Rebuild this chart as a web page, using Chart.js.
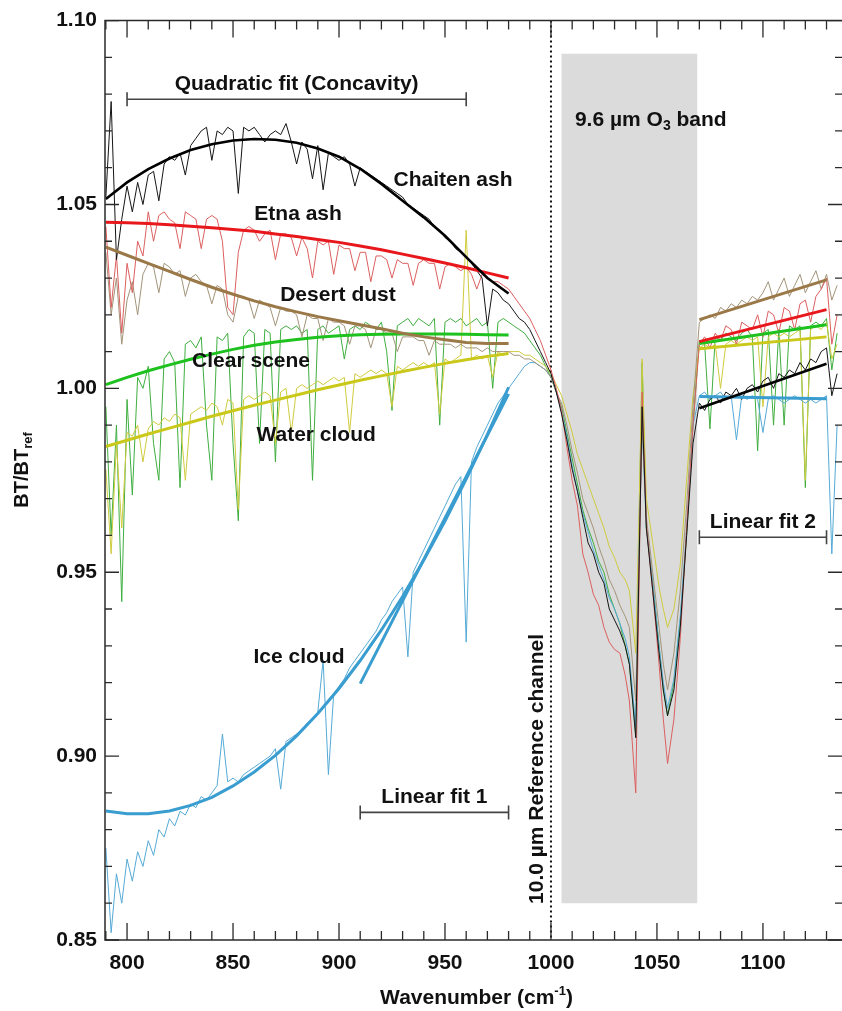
<!DOCTYPE html>
<html>
<head>
<meta charset="utf-8">
<title>BT/BTref spectra</title>
<script src="https://cdn.jsdelivr.net/npm/chart.js@4.4.1/dist/chart.umd.min.js"></script>
<style>
  html, body { margin: 0; padding: 0; background: #fff; }
  #wrap { width: 842px; height: 1011px; }
</style>
</head>
<body>
<div id="wrap"><canvas id="chart" width="842" height="1011"></canvas></div>
<script>
/* ============================================================
   BT/BT_ref spectra with quadratic and linear fits
   ============================================================ */

// ── Wavenumber grid (cm-1) shared by all spectra ──
const WN = [
  790, 792.5, 795, 797.5, 800, 802.5, 805, 807.5, 810, 812.5,
  815, 817.5, 820, 822.5, 825, 827.5, 830, 832.5, 835, 837.5,
  840, 842.5, 845, 847.5, 850, 852.5, 855, 857.5, 860, 862.5,
  865, 867.5, 870, 872.5, 875, 877.5, 880, 882.5, 885, 887.5,
  890, 892.5, 895, 897.5, 900, 902.5, 905, 907.5, 910, 912.5,
  915, 917.5, 920, 922.5, 925, 927.5, 930, 932.5, 935, 937.5,
  940, 942.5, 945, 947.5, 950, 952.5, 955, 957.5, 960, 962.5,
  965, 967.5, 970, 972.5, 975, 977.5, 980, 982.5, 985, 987.5,
  990, 992.5, 995, 997.5, 1000, 1002.5, 1005, 1007.5, 1010, 1012.5,
  1015, 1017.5, 1020, 1022.5, 1025, 1027.5, 1030, 1032.5, 1035,
  // ozone band
  1037, 1040, 1041.5, 1043, 1045, 1048, 1051, 1053, 1055, 1058, 1061, 1064, 1067,
  // window 2
  1070, 1072.5, 1075, 1077.5, 1080, 1082.5, 1085, 1087.5, 1090, 1092.5,
  1095, 1097.5, 1100, 1102.5, 1105, 1107.5, 1110, 1112.5, 1115, 1117.5,
  1120, 1122.5, 1125, 1127.5, 1130, 1132.5, 1135
];

// ── Measured spectra ──
const CHAITEN = [
  1.052, 1.078, 1.035, 1.046, 1.055, 1.048, 1.056, 1.050, 1.058, 1.059,
  1.051, 1.061, 1.063, 1.062, 1.064, 1.058, 1.066, 1.068, 1.070, 1.071,
  1.062, 1.070, 1.069, 1.071, 1.070, 1.053, 1.071, 1.070, 1.071, 1.069,
  1.067, 1.069, 1.070, 1.069, 1.072, 1.067, 1.061, 1.067, 1.065, 1.057,
  1.066, 1.054, 1.064, 1.063, 1.062, 1.063, 1.061, 1.055, 1.060, 1.059,
  1.058, 1.057, 1.056, 1.055, 1.054, 1.053, 1.052, 1.050, 1.049, 1.048,
  1.047, 1.046, 1.044, 1.043, 1.041, 1.040, 1.038, 1.037, 1.036, 1.034,
  1.032, 1.030, 1.017, 1.027, 1.026, 1.024, 1.023, 1.021, 1.019, 1.018,
  1.016, 1.013, 1.010, 1.007, 1.004, 0.999, 0.993, 0.986, 0.978, 0.972,
  0.965, 0.958, 0.955, 0.950, 0.947, 0.940, 0.937, 0.934, 0.930,
  0.925, 0.905, 0.950, 0.995, 0.962, 0.945, 0.928, 0.918, 0.911, 0.918, 0.935, 0.960, 0.985,
  0.996, 0.994, 0.997, 0.998, 0.996, 0.999, 0.998, 1.000, 0.997, 1.000,
  1.001, 0.999, 1.002, 1.003, 1.000, 1.004, 1.003, 1.005, 1.004, 1.007,
  1.005, 1.008, 1.007, 1.010, 1.011, 0.998, 1.004
];
const ETNA = [
  1.044, 1.022, 1.036, 1.015, 1.034, 1.026, 1.040, 1.036, 1.048, 1.040,
  1.047, 1.048, 1.046, 1.045, 1.038, 1.048, 1.047, 1.046, 1.038, 1.046,
  1.047, 1.046, 1.040, 1.022, 1.020, 1.037, 1.043, 1.044, 1.043, 1.040,
  1.042, 1.043, 1.035, 1.042, 1.042, 1.041, 1.036, 1.041, 1.038, 1.030,
  1.040, 1.039, 1.040, 1.031, 1.039, 1.038, 1.038, 1.032, 1.037, 1.037,
  1.029, 1.036, 1.036, 1.035, 1.030, 1.035, 1.034, 1.034, 1.028, 1.034,
  1.035, 1.034, 1.034, 1.027, 1.033, 1.034, 1.033, 1.032, 1.033, 1.031,
  1.027, 1.031, 1.030, 1.029, 1.029, 1.028, 1.027, 1.025, 1.023, 1.021,
  1.019, 1.016, 1.013, 1.009, 1.005, 1.000, 0.994, 0.984, 0.975, 0.968,
  0.955, 0.950, 0.944, 0.941, 0.935, 0.931, 0.929, 0.928, 0.922,
  0.915, 0.890, 0.945, 0.999, 0.963, 0.945, 0.925, 0.910, 0.898, 0.910, 0.932, 0.962, 0.990,
  1.012, 1.014, 1.011, 1.015, 1.013, 1.017, 1.016, 1.012, 1.018, 1.017,
  1.016, 1.020, 1.014, 1.021, 1.020, 1.015, 1.022, 1.021, 1.016, 1.023,
  1.024, 1.018, 1.025, 1.027, 1.030, 1.012, 1.020
];
const DUST = [
  1.037, 1.020, 1.030, 1.012, 1.024, 1.029, 1.020, 1.031, 1.034, 1.033,
  1.026, 1.034, 1.033, 1.031, 1.032, 1.025, 1.030, 1.031, 1.029, 1.028,
  1.023, 1.028, 1.027, 1.020, 1.018, 1.025, 1.025, 1.024, 1.019, 1.024,
  1.023, 1.022, 1.017, 1.022, 1.021, 1.021, 1.020, 1.014, 1.020, 1.019,
  1.019, 1.013, 1.019, 1.018, 1.018, 1.017, 1.012, 1.017, 1.017, 1.016,
  1.011, 1.016, 1.016, 1.015, 1.015, 1.010, 1.014, 1.014, 1.014, 1.013,
  1.013, 1.009, 1.013, 1.012, 1.012, 1.012, 1.011, 1.012, 1.011, 1.011,
  1.011, 1.010, 1.011, 1.010, 1.010, 1.010, 1.010, 1.009, 1.009, 1.008,
  1.008, 1.007, 1.006, 1.005, 1.003, 0.999, 0.996, 0.990, 0.983, 0.977,
  0.970, 0.966, 0.962, 0.957, 0.953, 0.948, 0.945, 0.941, 0.938,
  0.935, 0.915, 0.955, 0.990, 0.965, 0.950, 0.935, 0.925, 0.918, 0.928, 0.945, 0.968, 0.995,
  1.018, 1.019, 1.020, 1.019, 1.022, 1.021, 1.023, 1.022, 1.024, 1.023,
  1.025, 1.024, 1.026, 1.029, 1.024, 1.027, 1.030, 1.025, 1.028, 1.031,
  1.026, 1.029, 1.032, 1.027, 1.031, 1.024, 1.028
];
const CLEAR = [
  0.995, 0.960, 0.990, 0.942, 0.997, 0.971, 1.003, 1.000, 1.006, 0.985,
  0.975, 1.008, 1.010, 1.007, 0.973, 1.012, 1.013, 1.011, 1.014, 0.990,
  0.975, 1.014, 1.013, 1.015, 0.985, 0.964, 1.014, 1.016, 1.015, 0.985,
  1.016, 1.015, 0.980, 1.016, 1.017, 1.016, 1.017, 1.015, 1.016, 0.975,
  1.016, 1.017, 1.015, 1.016, 1.017, 1.008, 1.016, 1.017, 1.016, 1.018,
  1.017, 1.016, 1.018, 1.010, 0.994, 1.017, 1.018, 1.019, 1.017, 1.019,
  1.018, 1.017, 1.019, 0.990, 1.018, 1.019, 1.018, 1.019, 1.017, 1.018,
  1.019, 1.017, 1.018, 1.000, 1.018, 1.019, 1.018, 1.017, 1.016, 1.015,
  1.013, 1.011, 1.009, 1.006, 1.003, 0.999, 0.995, 0.988, 0.981, 0.974,
  0.967, 0.962, 0.958, 0.953, 0.950, 0.944, 0.940, 0.936, 0.930,
  0.925, 0.906, 0.960, 1.007, 0.962, 0.947, 0.930, 0.918, 0.911, 0.920, 0.937, 0.960, 0.990,
  1.013, 1.012, 0.989, 1.014, 1.013, 1.015, 1.014, 1.013, 1.015, 1.016,
  1.014, 0.983, 1.015, 1.016, 0.990, 1.016, 0.990, 1.017, 1.016, 1.017,
  0.973, 1.017, 1.018, 1.017, 1.019, 1.005, 1.015
];
const WATER = [
  0.978, 0.955, 0.985, 0.962, 0.988, 0.987, 0.990, 0.980, 0.989, 0.991,
  0.990, 0.992, 0.991, 0.993, 0.992, 0.975, 0.993, 0.994, 0.995, 0.994,
  0.996, 0.995, 0.990, 0.997, 0.996, 0.967, 0.997, 0.998, 0.997, 0.998,
  0.999, 0.998, 0.985, 0.999, 1.000, 0.988, 1.000, 1.001, 1.000, 1.001,
  1.002, 1.001, 1.002, 1.003, 1.002, 1.003, 0.988, 1.004, 1.003, 1.004,
  1.005, 1.004, 1.005, 1.004, 0.995, 1.006, 1.005, 1.006, 1.007, 1.006,
  1.007, 1.006, 1.007, 0.993, 1.008, 1.007, 1.008, 1.009, 1.043, 1.008,
  1.009, 1.008, 1.009, 1.003, 1.010, 1.009, 1.010, 1.010, 1.010, 1.009,
  1.009, 1.008, 1.007, 1.006, 1.004, 1.001, 0.998, 0.993, 0.988, 0.982,
  0.978, 0.974, 0.970, 0.966, 0.962, 0.957, 0.954, 0.950, 0.948,
  0.945, 0.928, 0.965, 1.008, 0.970, 0.958, 0.946, 0.940, 0.935, 0.940, 0.952, 0.975, 0.998,
  1.011, 1.012, 1.011, 1.012, 1.000, 1.012, 1.013, 1.012, 1.013, 1.014,
  1.013, 1.014, 0.995, 1.014, 1.015, 1.014, 1.015, 1.014, 1.015, 1.016,
  0.975, 1.016, 1.017, 1.016, 1.018, 1.008, 1.012
];
const ICE = [
  0.875, 0.852, 0.868, 0.860, 0.872, 0.866, 0.874, 0.870, 0.877, 0.873,
  0.880, 0.878, 0.883, 0.881, 0.885, 0.884, 0.887, 0.886, 0.889, 0.888,
  0.890, 0.892, 0.906, 0.893, 0.894, 0.893, 0.895, 0.896, 0.897, 0.898,
  0.899, 0.900, 0.902, 0.891, 0.904, 0.905, 0.906, 0.907, 0.909, 0.910,
  0.912, 0.926, 0.895, 0.917, 0.919, 0.921, 0.924, 0.926, 0.928, 0.930,
  0.932, 0.934, 0.937, 0.939, 0.942, 0.944, 0.946, 0.927, 0.950, 0.953,
  0.956, 0.959, 0.962, 0.965, 0.968, 0.971, 0.974, 0.976, 0.931, 0.980,
  0.984, 0.987, 0.990, 0.993, 0.996, 0.998, 1.000, 1.002, 1.004, 1.006,
  1.007, 1.007, 1.006, 1.005, 1.003, 0.999, 0.994, 0.987, 0.979, 0.972,
  0.966, 0.961, 0.956, 0.952, 0.948, 0.943, 0.940, 0.936, 0.932,
  0.927, 0.908, 0.955, 0.990, 0.962, 0.948, 0.930, 0.920, 0.913, 0.921, 0.938, 0.962, 0.990,
  0.998, 0.999, 0.997, 0.998, 0.999, 0.997, 0.998, 0.986, 0.998, 0.997,
  0.998, 0.997, 0.988, 0.997, 0.998, 0.997, 0.996, 0.997, 0.998, 0.997,
  0.996, 0.997, 0.996, 0.997, 0.998, 0.955, 0.990
];

// ── Quadratic fits (800-980 window, drawn from 790) ──
const QUAD_X = [790, 800, 810, 820, 830, 840, 850, 860, 870, 880, 890, 900, 910, 920, 930, 940, 950, 960, 970, 980];
const CHAITEN_QFIT = [1.0515, 1.0560, 1.0596, 1.0625, 1.0648, 1.0664, 1.0674, 1.0678, 1.0676, 1.0668, 1.0652, 1.0630, 1.0597, 1.0556, 1.0510, 1.0465, 1.0415, 1.0357, 1.0300, 1.0258];
const ETNA_QFIT    = [1.0452, 1.0450, 1.0448, 1.0445, 1.0441, 1.0437, 1.0432, 1.0427, 1.0420, 1.0413, 1.0405, 1.0397, 1.0387, 1.0377, 1.0365, 1.0353, 1.0341, 1.0328, 1.0314, 1.0300];
const DUST_QFIT    = [1.0384, 1.0362, 1.0340, 1.0318, 1.0296, 1.0275, 1.0256, 1.0238, 1.0222, 1.0208, 1.0195, 1.0184, 1.0173, 1.0162, 1.0150, 1.0140, 1.0132, 1.0125, 1.0122, 1.0122];
const CLEAR_QFIT   = [1.0010, 1.0030, 1.0048, 1.0064, 1.0079, 1.0093, 1.0106, 1.0117, 1.0126, 1.0133, 1.0139, 1.0143, 1.0146, 1.0147, 1.0148, 1.0148, 1.0148, 1.0147, 1.0146, 1.0145];
const WATER_QFIT   = [0.9842, 0.9859, 0.9876, 0.9892, 0.9908, 0.9924, 0.9939, 0.9954, 0.9968, 0.9982, 0.9996, 1.0009, 1.0022, 1.0034, 1.0046, 1.0057, 1.0068, 1.0078, 1.0087, 1.0095];
const ICE_QFIT     = [0.8851, 0.8843, 0.8843, 0.8851, 0.8866, 0.8888, 0.8919, 0.8957, 0.9002, 0.9055, 0.9116, 0.9184, 0.9260, 0.9343, 0.9434, 0.9533, 0.9639, 0.9753, 0.9874, 1.0003];

// ── Linear fit 1 (910-980) ──
const LIN1_X = [910, 980];
const ICE_LFIT1 = [0.9197, 0.9985];

// ── Linear fit 2 (1070-1130) ──
const LIN2_X = [1070, 1130];
const DUST_LFIT2    = [1.0187, 1.0295];
const ETNA_LFIT2    = [1.0127, 1.0214];
const CLEAR_LFIT2   = [1.0122, 1.0173];
const WATER_LFIT2   = [1.0108, 1.0140];
const CHAITEN_LFIT2 = [0.9946, 1.0067];
const ICE_LFIT2     = [0.9978, 0.9972];

// ── Axis ticks ──
const X_TICKS = [800, 850, 900, 950, 1000, 1050, 1100];
const Y_TICKS = [0.85, 0.90, 0.95, 1.00, 1.05, 1.10];

// ── Annotations ──
const O3_BAND_X = [1005, 1069];
const O3_BAND_Y = [0.86, 1.091];
const REF_CHANNEL = 1000;
const SCENE_LABELS = [
  ["Chaiten ash", 953.8, 1.0566],
  ["Etna ash",    880.7, 1.0474],
  ["Desert dust", 899.5, 1.0254],
  ["Clear scene", 858.5, 1.0073],
  ["Water cloud", 889.2, 0.9872],
  ["Ice cloud",   881.1, 0.9270]
];
const BRACKETS = [
  ["Quadratic fit (Concavity)", 800, 960, 1.0786],
  ["Linear fit 1",              910, 980, 0.8847],
  ["Linear fit 2",              1070, 1130, 0.9595]
];

const FONT_FAMILY = "'Liberation Sans', Arial, Helvetica, sans-serif";
const TEXT_COLOR  = "#111";

/* ================================================================
   DATASETS
   ================================================================ */
function pts(xs, ys) {
  return xs.map((x, i) => ({ x: x, y: ys[i] }));
}

function spectrum(label, ys, color, order) {
  return {
    label: label,
    data: pts(WN, ys),
    borderColor: color,
    borderWidth: 1,
    pointRadius: 0,
    tension: 0,
    order: order
  };
}

function fit(label, xs, ys, color, width) {
  return {
    label: label,
    data: pts(xs, ys),
    borderColor: color,
    borderWidth: width || 3,
    pointRadius: 0,
    tension: 0,
    order: 0
  };
}

const datasets = [
  // fits on top (order 0)
  fit("Chaiten fit",  QUAD_X, CHAITEN_QFIT, "#000000", 2.6),
  fit("Etna fit",     QUAD_X, ETNA_QFIT,    "#e8171c"),
  fit("Dust fit",     QUAD_X, DUST_QFIT,    "#9b7847"),
  fit("Clear fit",    QUAD_X, CLEAR_QFIT,   "#1ec21e"),
  fit("Water fit",    QUAD_X, WATER_QFIT,   "#cac81a"),
  fit("Ice fit",      QUAD_X, ICE_QFIT,     "#3a9dd0"),
  fit("Ice lin 1",    LIN1_X, ICE_LFIT1,    "#3a9dd0"),
  fit("Dust lin 2",   LIN2_X, DUST_LFIT2,   "#9b7847"),
  fit("Etna lin 2",   LIN2_X, ETNA_LFIT2,   "#e8171c"),
  fit("Clear lin 2",  LIN2_X, CLEAR_LFIT2,  "#1ec21e"),
  fit("Water lin 2",  LIN2_X, WATER_LFIT2,  "#cac81a"),
  fit("Chaiten lin 2",LIN2_X, CHAITEN_LFIT2,"#000000", 2.6),
  fit("Ice lin 2",    LIN2_X, ICE_LFIT2,    "#3a9dd0"),
  // spectra (higher order = further back)
  spectrum("Chaiten ash", CHAITEN, "#151515", 1),
  spectrum("Etna ash",    ETNA,    "#dc5f5f", 2),
  spectrum("Desert dust", DUST,    "#a29479", 3),
  spectrum("Ice cloud",   ICE,     "#55aad6", 4),
  spectrum("Water cloud", WATER,   "#cfcb3e", 5),
  spectrum("Clear scene", CLEAR,   "#3fae3f", 6)
];

/* ================================================================
   DECORATION PLUGIN (band, reference line, frame, ticks, text)
   ================================================================ */
function drawSubText(ctx, parts, x, y, align) {
  // parts: [text, size, dy]
  let total = 0;
  parts.forEach(p => {
    ctx.font = `bold ${p[1]}px ${FONT_FAMILY}`;
    total += ctx.measureText(p[0]).width;
  });
  let cx = align === "center" ? x - total / 2 : x;
  ctx.textAlign = "left";
  ctx.textBaseline = "middle";
  parts.forEach(p => {
    ctx.font = `bold ${p[1]}px ${FONT_FAMILY}`;
    ctx.fillText(p[0], cx, y + p[2]);
    cx += ctx.measureText(p[0]).width;
  });
}

const decor = {
  id: "decor",
  beforeDatasetsDraw(chart) {
    const { ctx, chartArea: a, scales: { x, y } } = chart;
    ctx.save();

    // 9.6 um ozone band
    const bx0 = x.getPixelForValue(O3_BAND_X[0]);
    const bx1 = x.getPixelForValue(O3_BAND_X[1]);
    const by0 = y.getPixelForValue(O3_BAND_Y[1]);
    const by1 = y.getPixelForValue(O3_BAND_Y[0]);
    ctx.fillStyle = "#dbdbdb";
    ctx.fillRect(bx0, by0, bx1 - bx0, by1 - by0);

    // dotted reference channel
    const xr = x.getPixelForValue(REF_CHANNEL);
    ctx.strokeStyle = "#111";
    ctx.lineWidth = 2;
    ctx.setLineDash([2, 3]);
    ctx.beginPath();
    ctx.moveTo(xr, a.top);
    ctx.lineTo(xr, a.bottom);
    ctx.stroke();
    ctx.restore();
  },

  afterDraw(chart) {
    const { ctx, chartArea: a, scales: { x, y } } = chart;
    ctx.save();

    // frame
    ctx.strokeStyle = "#2a2a2a";
    ctx.lineWidth = 1.5;
    ctx.beginPath();
    ctx.moveTo(a.right, a.top);
    ctx.lineTo(a.left, a.top);
    ctx.lineTo(a.left, a.bottom);
    ctx.lineTo(a.right, a.bottom);
    ctx.stroke();

    // inward ticks: x
    ctx.lineWidth = 1.3;
    ctx.beginPath();
    for (let w = 790; w <= 1130; w += 10) {
      const px = x.getPixelForValue(w);
      const len = X_TICKS.includes(w) ? 17 : 9;
      ctx.moveTo(px, a.bottom); ctx.lineTo(px, a.bottom - len);
      ctx.moveTo(px, a.top);    ctx.lineTo(px, a.top + len);
    }
    // inward ticks: y
    for (let k = 85; k <= 110; k++) {
      const py = y.getPixelForValue(k / 100);
      const len = k % 5 === 0 ? 14 : 7;
      ctx.moveTo(a.left, py);  ctx.lineTo(a.left + len, py);
      ctx.moveTo(a.right, py); ctx.lineTo(a.right - len, py);
    }
    ctx.stroke();

    // fit-range brackets
    ctx.fillStyle = TEXT_COLOR;
    ctx.strokeStyle = "#444";
    ctx.lineWidth = 1.6;
    BRACKETS.forEach(([text, w0, w1, v]) => {
      const x0 = x.getPixelForValue(w0), x1 = x.getPixelForValue(w1);
      const py = y.getPixelForValue(v);
      ctx.beginPath();
      ctx.moveTo(x0, py); ctx.lineTo(x1, py);
      ctx.moveTo(x0, py - 7); ctx.lineTo(x0, py + 7);
      ctx.moveTo(x1, py - 7); ctx.lineTo(x1, py + 7);
      ctx.stroke();
      ctx.font = `bold 21px ${FONT_FAMILY}`;
      ctx.textAlign = "center";
      ctx.textBaseline = "middle";
      ctx.fillText(text, (x0 + x1) / 2, py - 15);
    });

    // scene labels
    ctx.font = `bold 21px ${FONT_FAMILY}`;
    ctx.textAlign = "center";
    ctx.textBaseline = "middle";
    SCENE_LABELS.forEach(([text, w, v]) => {
      ctx.fillText(text, x.getPixelForValue(w), y.getPixelForValue(v));
    });

    // ozone band label
    drawSubText(ctx, [["9.6 \u00b5m O", 21, 0], ["3", 14, 6], [" band", 21, 0]],
      x.getPixelForValue(1011.3), y.getPixelForValue(1.0729), "left");

    // reference channel label (rotated)
    ctx.save();
    ctx.translate(x.getPixelForValue(993.4), y.getPixelForValue(0.8598));
    ctx.rotate(-Math.PI / 2);
    ctx.font = `bold 21px ${FONT_FAMILY}`;
    ctx.textAlign = "left";
    ctx.textBaseline = "middle";
    ctx.fillText("10.0 \u00b5m Reference channel", 0, 0);
    ctx.restore();

    // y axis title
    ctx.save();
    ctx.translate(22, 470);
    ctx.rotate(-Math.PI / 2);
    drawSubText(ctx, [["BT/BT", 20, 0], ["ref", 13, 6]], 0, 0, "center");
    ctx.restore();

    // x axis title
    drawSubText(ctx, [["Wavenumber (cm", 21, 0], ["-1", 13, -7], [")", 21, 0]],
      (a.left + a.right) / 2 + 3, 998, "center");

    ctx.restore();
  }
};

/* ================================================================
   CHART
   ================================================================ */
Chart.defaults.font.family = FONT_FAMILY;
Chart.defaults.color = TEXT_COLOR;

new Chart(document.getElementById("chart"), {
  type: "line",
  data: { datasets: datasets },
  options: {
    responsive: false,
    animation: false,
    layout: { padding: { top: 18, left: 0, right: 0, bottom: 0 } },
    plugins: {
      legend: { display: false },
      tooltip: { enabled: false }
    },
    scales: {
      x: {
        type: "linear",
        min: 789.6,
        max: 1137.3,
        afterBuildTicks: s => { s.ticks = X_TICKS.map(v => ({ value: v })); },
        afterFit: s => { s.height = 71; },
        grid: { display: false, drawTicks: false },
        border: { display: false },
        ticks: {
          padding: 11,
          maxRotation: 0,
          font: { size: 21, weight: "bold" },
          callback: v => String(v)
        }
      },
      y: {
        type: "linear",
        min: 0.85,
        max: 1.10,
        afterBuildTicks: s => { s.ticks = Y_TICKS.map(v => ({ value: v })); },
        afterFit: s => { s.width = 105; },
        grid: { display: false, drawTicks: false },
        border: { display: false },
        ticks: {
          padding: 8,
          font: { size: 21, weight: "bold" },
          callback: v => Number(v).toFixed(2)
        }
      }
    }
  },
  plugins: [decor]
});
</script>
</body>
</html>
